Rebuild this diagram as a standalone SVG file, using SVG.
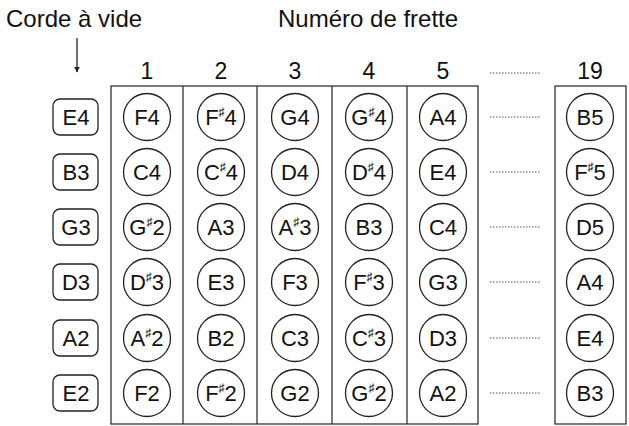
<svg xmlns="http://www.w3.org/2000/svg" width="629" height="426" viewBox="0 0 629 426">
<style>
text{font-family:"Liberation Sans",Arial,sans-serif;fill:#111}
.t{font-size:24px}
.n{font-size:22px;text-anchor:middle}
.s{font-size:12px}
.c{fill:#fff;stroke:#222;stroke-width:1.3}
.b{fill:#fff;stroke:#222;stroke-width:1.3}
.f{fill:none;stroke:#222;stroke-width:1.2}
.d{stroke:#555;stroke-width:1;stroke-dasharray:1.5 1.5}
</style>
<defs>
<marker id="ah" viewBox="0 0 10 10" refX="9" refY="5" markerWidth="6" markerHeight="8" orient="auto" markerUnits="userSpaceOnUse"><path d="M0,0 L10,5 L0,10 z" fill="#222"/></marker>
</defs>
<text class="t" x="6" y="27">Corde à vide</text>
<text class="t" x="278" y="27">Numéro de frette</text>
<g>
<text class="n" x="147" y="79" style="font-size:23px">1</text><text class="n" x="221" y="79" style="font-size:23px">2</text><text class="n" x="295" y="79" style="font-size:23px">3</text><text class="n" x="369" y="79" style="font-size:23px">4</text><text class="n" x="443" y="79" style="font-size:23px">5</text><text class="n" x="590" y="79" style="font-size:23px">19</text>
</g>
<g id="frame">
<rect class="f" x="111" y="86" width="367" height="338"/>
<line class="f" x1="183" y1="86" x2="183" y2="424"/>
<line class="f" x1="257" y1="86" x2="257" y2="424"/>
<line class="f" x1="332" y1="86" x2="332" y2="424"/>
<line class="f" x1="407" y1="86" x2="407" y2="424"/>
<rect class="f" x="555" y="86" width="71" height="338"/>
</g>
<g id="connectors">
<line x1="77" y1="38" x2="77" y2="72" stroke="#222" stroke-width="1.3" marker-end="url(#ah)"/>
<line class="d" x1="490" y1="73" x2="541" y2="73"/>
<line class="d" x1="490" y1="117" x2="541" y2="117"/>
<line class="d" x1="490" y1="172" x2="541" y2="172"/>
<line class="d" x1="490" y1="227" x2="541" y2="227"/>
<line class="d" x1="490" y1="282" x2="541" y2="282"/>
<line class="d" x1="490" y1="338" x2="541" y2="338"/>
<line class="d" x1="490" y1="393" x2="541" y2="393"/>
</g>
<g id="open">
<g id="o-E4"><rect class="b" x="53" y="99" width="45" height="36" rx="7"/><text class="n" x="76" y="125">E4</text></g>
<g id="o-B3"><rect class="b" x="53" y="154" width="45" height="36" rx="7"/><text class="n" x="76" y="180">B3</text></g>
<g id="o-G3"><rect class="b" x="53" y="209" width="45" height="36" rx="7"/><text class="n" x="76" y="235">G3</text></g>
<g id="o-D3"><rect class="b" x="53" y="264" width="45" height="36" rx="7"/><text class="n" x="76" y="290">D3</text></g>
<g id="o-A2"><rect class="b" x="53" y="320" width="45" height="36" rx="7"/><text class="n" x="76" y="346">A2</text></g>
<g id="o-E2"><rect class="b" x="53" y="375" width="45" height="36" rx="7"/><text class="n" x="76" y="401">E2</text></g>
</g>
<g id="notes">
<g id="n1-1"><circle class="c" cx="147" cy="117" r="23.5"/><text class="n" x="147" y="125">F4</text></g>
<g id="n1-2"><circle class="c" cx="221" cy="117" r="23.5"/><text class="n" x="221" y="125">F<tspan class="s" dy="-9">♯</tspan><tspan dy="9">4</tspan></text></g>
<g id="n1-3"><circle class="c" cx="295" cy="117" r="23.5"/><text class="n" x="295" y="125">G4</text></g>
<g id="n1-4"><circle class="c" cx="369" cy="117" r="23.5"/><text class="n" x="369" y="125">G<tspan class="s" dy="-9">♯</tspan><tspan dy="9">4</tspan></text></g>
<g id="n1-5"><circle class="c" cx="443" cy="117" r="23.5"/><text class="n" x="443" y="125">A4</text></g>
<g id="n1-19"><circle class="c" cx="590" cy="117" r="23.5"/><text class="n" x="590" y="125">B5</text></g>
<g id="n2-1"><circle class="c" cx="147" cy="172" r="23.5"/><text class="n" x="147" y="180">C4</text></g>
<g id="n2-2"><circle class="c" cx="221" cy="172" r="23.5"/><text class="n" x="221" y="180">C<tspan class="s" dy="-9">♯</tspan><tspan dy="9">4</tspan></text></g>
<g id="n2-3"><circle class="c" cx="295" cy="172" r="23.5"/><text class="n" x="295" y="180">D4</text></g>
<g id="n2-4"><circle class="c" cx="369" cy="172" r="23.5"/><text class="n" x="369" y="180">D<tspan class="s" dy="-9">♯</tspan><tspan dy="9">4</tspan></text></g>
<g id="n2-5"><circle class="c" cx="443" cy="172" r="23.5"/><text class="n" x="443" y="180">E4</text></g>
<g id="n2-19"><circle class="c" cx="590" cy="172" r="23.5"/><text class="n" x="590" y="180">F<tspan class="s" dy="-9">♯</tspan><tspan dy="9">5</tspan></text></g>
<g id="n3-1"><circle class="c" cx="147" cy="227" r="23.5"/><text class="n" x="147" y="235">G<tspan class="s" dy="-9">♯</tspan><tspan dy="9">2</tspan></text></g>
<g id="n3-2"><circle class="c" cx="221" cy="227" r="23.5"/><text class="n" x="221" y="235">A3</text></g>
<g id="n3-3"><circle class="c" cx="295" cy="227" r="23.5"/><text class="n" x="295" y="235">A<tspan class="s" dy="-9">♯</tspan><tspan dy="9">3</tspan></text></g>
<g id="n3-4"><circle class="c" cx="369" cy="227" r="23.5"/><text class="n" x="369" y="235">B3</text></g>
<g id="n3-5"><circle class="c" cx="443" cy="227" r="23.5"/><text class="n" x="443" y="235">C4</text></g>
<g id="n3-19"><circle class="c" cx="590" cy="227" r="23.5"/><text class="n" x="590" y="235">D5</text></g>
<g id="n4-1"><circle class="c" cx="147" cy="282" r="23.5"/><text class="n" x="147" y="290">D<tspan class="s" dy="-9">♯</tspan><tspan dy="9">3</tspan></text></g>
<g id="n4-2"><circle class="c" cx="221" cy="282" r="23.5"/><text class="n" x="221" y="290">E3</text></g>
<g id="n4-3"><circle class="c" cx="295" cy="282" r="23.5"/><text class="n" x="295" y="290">F3</text></g>
<g id="n4-4"><circle class="c" cx="369" cy="282" r="23.5"/><text class="n" x="369" y="290">F<tspan class="s" dy="-9">♯</tspan><tspan dy="9">3</tspan></text></g>
<g id="n4-5"><circle class="c" cx="443" cy="282" r="23.5"/><text class="n" x="443" y="290">G3</text></g>
<g id="n4-19"><circle class="c" cx="590" cy="282" r="23.5"/><text class="n" x="590" y="290">A4</text></g>
<g id="n5-1"><circle class="c" cx="147" cy="338" r="23.5"/><text class="n" x="147" y="346">A<tspan class="s" dy="-9">♯</tspan><tspan dy="9">2</tspan></text></g>
<g id="n5-2"><circle class="c" cx="221" cy="338" r="23.5"/><text class="n" x="221" y="346">B2</text></g>
<g id="n5-3"><circle class="c" cx="295" cy="338" r="23.5"/><text class="n" x="295" y="346">C3</text></g>
<g id="n5-4"><circle class="c" cx="369" cy="338" r="23.5"/><text class="n" x="369" y="346">C<tspan class="s" dy="-9">♯</tspan><tspan dy="9">3</tspan></text></g>
<g id="n5-5"><circle class="c" cx="443" cy="338" r="23.5"/><text class="n" x="443" y="346">D3</text></g>
<g id="n5-19"><circle class="c" cx="590" cy="338" r="23.5"/><text class="n" x="590" y="346">E4</text></g>
<g id="n6-1"><circle class="c" cx="147" cy="393" r="23.5"/><text class="n" x="147" y="401">F2</text></g>
<g id="n6-2"><circle class="c" cx="221" cy="393" r="23.5"/><text class="n" x="221" y="401">F<tspan class="s" dy="-9">♯</tspan><tspan dy="9">2</tspan></text></g>
<g id="n6-3"><circle class="c" cx="295" cy="393" r="23.5"/><text class="n" x="295" y="401">G2</text></g>
<g id="n6-4"><circle class="c" cx="369" cy="393" r="23.5"/><text class="n" x="369" y="401">G<tspan class="s" dy="-9">♯</tspan><tspan dy="9">2</tspan></text></g>
<g id="n6-5"><circle class="c" cx="443" cy="393" r="23.5"/><text class="n" x="443" y="401">A2</text></g>
<g id="n6-19"><circle class="c" cx="590" cy="393" r="23.5"/><text class="n" x="590" y="401">B3</text></g>
</g>
</svg>
